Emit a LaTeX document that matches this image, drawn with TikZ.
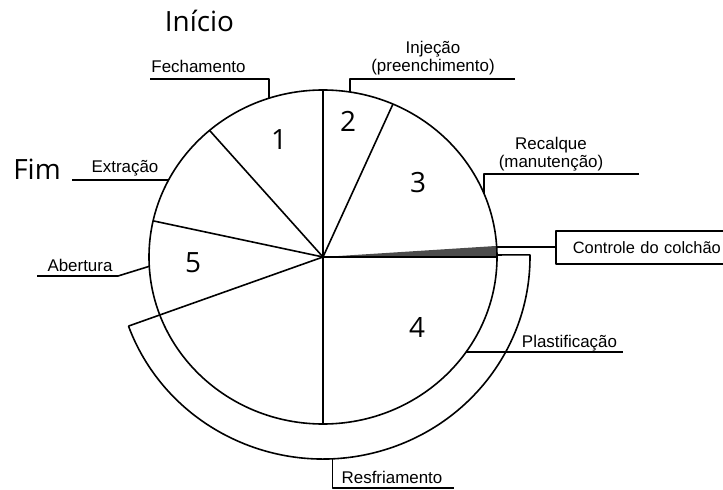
\documentclass[tikz,border=0pt]{standalone}
\usepackage{fontspec}
\setmainfont{Liberation Sans}
\newfontfamily\bigfont{Open Sans}
\usetikzlibrary{calc}
\begin{document}
\begin{tikzpicture}[x=1bp,y=-1bp, line width=1.6bp, line join=round,
  lbl/.style={font=\fontsize{17}{19}\selectfont, inner sep=0pt, align=center, anchor=base},
  big/.style={font=\bigfont\fontsize{28}{30}\selectfont, inner sep=0pt, anchor=base},
  num/.style={font=\bigfont\fontsize{28}{30}\selectfont, inner sep=0pt, anchor=base},
  boxst/.style={draw, line width=1.6bp, anchor=west, minimum height=33bp, inner ysep=0pt, inner xsep=17bp, text width=200bp, align=left, font=\fontsize{16.5}{19}\selectfont}]
\useasboundingbox (0,0) rectangle (723,490);
\coordinate (c) at (323,257);
% shaded wedge (controle do colchao)
\fill[black!70] (c) -- ($(c)+(-3.8:174 and 167)$) arc[start angle=-3.8, end angle=0, x radius=174, y radius=167] -- cycle;
% main circle
\draw (c) ellipse [x radius=174, y radius=167];
% radial lines
\draw (c) -- ($(c)+(-90:174 and 167)$);
\draw (c) -- ($(c)+(-66.3:174 and 167)$);
\draw (c) -- ($(c)+(-130.7:174 and 167)$);
\draw (c) -- ($(c)+(-167.5:174 and 167)$);
\draw (c) -- ($(c)+(90:174 and 167)$);
\draw (c) -- ($(c)+(0:174 and 167)$);
% outer band (resfriamento)
\coordinate (bandL) at ($(c)+(160:207 and 202)$);
\coordinate (bandR) at ($(c)+(-0.6:207 and 202)$);
\coordinate (bandRi) at ($(c)+(-0.7:174 and 167)$);
\draw (c) -- (bandL);
\draw (bandL) arc[start angle=160, end angle=-0.6, x radius=207, y radius=202] -- (bandRi);
% numbers
\node[num] (n1) at (279,150) {1};
\node[num] (n2) at (348,132) {2};
\node[num] (n3) at (418,193) {3};
\node[num] (n4) at (417,337) {4};
\node[num] (n5) at (193,273) {5};
% big labels
\node[big] (inicio) at (199.5,32) {Início};
\node[big] (fim) at (37,180) {Fim};
% Fechamento
\node[lbl] (fech) at (198.5,73) {Fechamento};
\coordinate (fechA) at (150,79);
\coordinate (fechB) at (269,79);
\coordinate (fechC) at ($(c)+(-108.1:174 and 167)$);
\draw (fechA) -- (fechB) -- (fechB |- fechC);
% Injecao
\node[lbl] (inj) at (433,72) {Injeção\\(preenchimento)};
\coordinate (injA) at (515,79);
\coordinate (injB) at (350,79);
\coordinate (injC) at ($(c)+(-81.1:174 and 167)$);
\draw (injA) -- (injB) -- (injB |- injC);
% Recalque
\node[lbl] (rec) at (551,168) {Recalque\\(manutenção)};
\coordinate (recA) at (639,174);
\coordinate (recB) at (484,174);
\coordinate (recC) at ($(c)+(-22.3:174 and 167)$);
\draw (recA) -- (recB) -- (recB |- recC);
% Controle do colchao
\node[boxst] (ctrl) at (555,247.5) {Controle do colchão};
\coordinate (ctrlC) at ($(c)+(-3.4:174 and 167)$);
\draw (ctrlC) -- (ctrlC -| ctrl.west);
% Extracao
\node[lbl] (extr) at (125,173) {Extração};
\coordinate (extrA) at (72,180);
\coordinate (extrC) at ($(c)+(-152.5:174 and 167)$);
\draw (extrA) -- (extrA -| extrC);
% Abertura
\node[lbl] (abert) at (80,272) {Abertura};
\coordinate (abA) at (37,276);
\coordinate (abB) at (118,276);
\coordinate (abC) at ($(c)+(176.8:174 and 167)$);
\draw (abA) -- (abB) -- (abC);
% Plastificacao
\node[lbl] (plast) at (569.5,347) {Plastificação};
\coordinate (plA) at (623,352);
\coordinate (plC) at ($(c)+(34.7:174 and 167)$);
\draw (plC) -- (plC -| plA);
% Resfriamento
\node[lbl] (resf) at (392,483) {Resfriamento};
\coordinate (resA) at ($(c)+(87.4:207 and 202)$);
\coordinate (resB) at (454,488);
\draw (resA) -- (resA |- resB) -- (resB);
\end{tikzpicture}
\end{document}
